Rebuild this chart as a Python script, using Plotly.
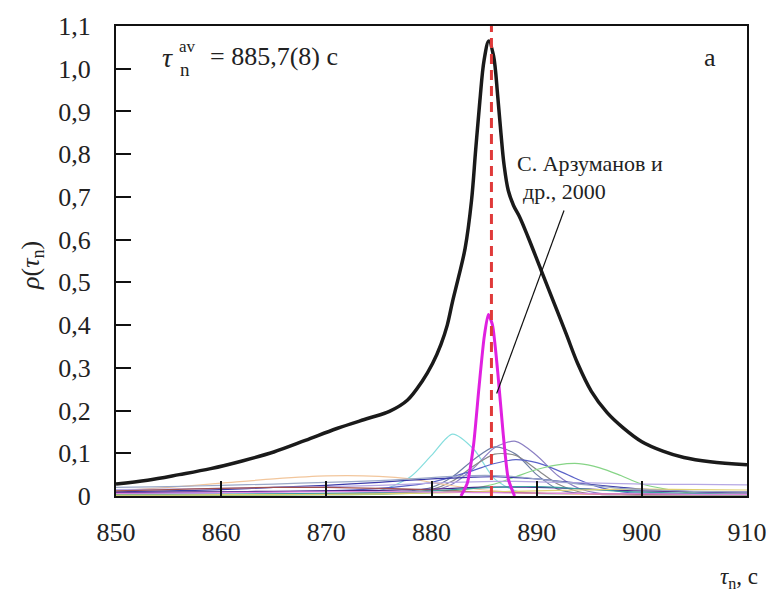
import plotly.graph_objects as go

# ---------------- data ----------------
TAU_AV = 885.7

# summed distribution (thick black)
black_x = [850, 853, 856, 859, 862, 865, 868, 871, 874, 876, 877.7, 879.1, 880.1, 880.9, 881.5,
           882.0, 882.6, 883.2, 883.8, 884.2, 884.6, 885.0, 885.45, 885.9, 886.3, 886.6, 886.9,
           887.3, 887.8, 888.4, 889.2, 890.4, 891.6, 892.8, 893.9, 895.2, 896.7, 898.2, 900.0,
           902.0, 904.0, 906.5, 910]
black_y = [0.028, 0.037, 0.050, 0.064, 0.082, 0.103, 0.130, 0.158, 0.182, 0.198, 0.224, 0.268,
           0.310, 0.355, 0.400, 0.455, 0.515, 0.580, 0.690, 0.810, 0.925, 1.020, 1.065, 1.030,
           0.935, 0.850, 0.775, 0.715, 0.680, 0.652, 0.605, 0.530, 0.455, 0.380, 0.310, 0.245,
           0.195, 0.160, 0.127, 0.105, 0.090, 0.080, 0.073]

# Arzumanov et al. 2000 (magenta)
mag_x = [882.8, 883.4, 884.0, 884.5, 885.0, 885.4, 885.8, 886.3, 886.8, 887.3, 887.9]
mag_y = [0.000, 0.030, 0.120, 0.250, 0.370, 0.425, 0.400, 0.290, 0.150, 0.040, 0.000]

# individual measurements (thin lines) on a common grid
thin_x = [850, 855, 860, 865, 870, 875, 878, 880, 882, 884, 886, 888, 890, 892, 894, 896, 898, 900, 905, 910]
thin_series = {
    "cyan":     [0.004, 0.004, 0.005, 0.005, 0.006, 0.012, 0.045, 0.095, 0.145, 0.110, 0.040, 0.012, 0.006, 0.005, 0.004, 0.004, 0.004, 0.004, 0.003, 0.003],
    "purple":   [0.002, 0.002, 0.003, 0.003, 0.004, 0.005, 0.008, 0.012, 0.028, 0.065, 0.113, 0.128, 0.095, 0.048, 0.018, 0.006, 0.004, 0.003, 0.003, 0.002],
    "grayblue": [0.003, 0.003, 0.003, 0.004, 0.005, 0.007, 0.012, 0.020, 0.045, 0.085, 0.115, 0.098, 0.050, 0.016, 0.006, 0.004, 0.003, 0.003, 0.003, 0.003],
    "gray":     [0.002, 0.002, 0.002, 0.003, 0.003, 0.005, 0.009, 0.015, 0.035, 0.070, 0.098, 0.095, 0.062, 0.028, 0.010, 0.004, 0.003, 0.002, 0.002, 0.002],
    "blue":     [0.006, 0.007, 0.008, 0.010, 0.012, 0.018, 0.025, 0.032, 0.045, 0.060, 0.076, 0.085, 0.078, 0.060, 0.038, 0.020, 0.010, 0.006, 0.004, 0.003],
    "green":    [0.002, 0.002, 0.002, 0.002, 0.003, 0.004, 0.006, 0.008, 0.012, 0.018, 0.028, 0.045, 0.062, 0.073, 0.076, 0.066, 0.048, 0.028, 0.006, 0.003],
    "orange":   [0.012, 0.020, 0.030, 0.040, 0.047, 0.046, 0.040, 0.032, 0.024, 0.017, 0.012, 0.008, 0.006, 0.005, 0.004, 0.004, 0.003, 0.003, 0.003, 0.003],
    "navy":     [0.010, 0.012, 0.015, 0.020, 0.025, 0.032, 0.037, 0.040, 0.042, 0.044, 0.045, 0.043, 0.040, 0.035, 0.030, 0.025, 0.020, 0.016, 0.010, 0.007],
    "lilac":    [0.015, 0.016, 0.018, 0.020, 0.022, 0.025, 0.028, 0.030, 0.032, 0.033, 0.034, 0.034, 0.033, 0.032, 0.031, 0.030, 0.029, 0.028, 0.027, 0.026],
    "violet":   [0.008, 0.009, 0.010, 0.011, 0.012, 0.013, 0.015, 0.016, 0.018, 0.020, 0.021, 0.021, 0.020, 0.019, 0.017, 0.015, 0.013, 0.012, 0.010, 0.009],
    "brown":    [0.012, 0.015, 0.018, 0.020, 0.020, 0.018, 0.016, 0.014, 0.012, 0.010, 0.009, 0.008, 0.007, 0.006, 0.006, 0.005, 0.005, 0.004, 0.004, 0.004],
    "teal":     [0.003, 0.003, 0.004, 0.005, 0.006, 0.008, 0.010, 0.012, 0.015, 0.018, 0.020, 0.022, 0.022, 0.020, 0.017, 0.014, 0.011, 0.009, 0.006, 0.004],
    "yellow":   [0.002, 0.002, 0.003, 0.003, 0.004, 0.005, 0.006, 0.007, 0.008, 0.009, 0.010, 0.011, 0.012, 0.013, 0.014, 0.015, 0.016, 0.016, 0.015, 0.014],
    "pink":     [0.006, 0.007, 0.008, 0.009, 0.010, 0.010, 0.010, 0.009, 0.009, 0.008, 0.008, 0.007, 0.007, 0.006, 0.006, 0.005, 0.005, 0.005, 0.004, 0.004],
    "slate":    [0.020, 0.022, 0.025, 0.028, 0.032, 0.036, 0.040, 0.043, 0.046, 0.048, 0.048, 0.045, 0.040, 0.034, 0.028, 0.023, 0.018, 0.015, 0.011, 0.009],
}
thin_colors = {
    "cyan": "#86dede", "purple": "#8c80c4", "grayblue": "#6f7fa6", "gray": "#8a8a8a",
    "blue": "#5a62c8", "green": "#86d486", "orange": "#f2c69c", "navy": "#3a3aa8",
    "lilac": "#b6a8e4", "violet": "#4a2088", "brown": "#a05050", "teal": "#3aa0a0",
    "yellow": "#e0d070", "pink": "#e088e0", "slate": "#9aa8c8",
}

x_ticks = [850, 860, 870, 880, 890, 900, 910]
y_ticks = [0, 0.1, 0.2, 0.3, 0.4, 0.5, 0.6, 0.7, 0.8, 0.9, 1.0, 1.1]
y_ticktext = ["0", "0,1", "0,2", "0,3", "0,4", "0,5", "0,6", "0,7", "0,8", "0,9", "1,0", "1,1"]

ANNOT_LINE = [(892.6, 0.668), (886.2, 0.24)]

# ---------------- figure ----------------
FONT = "Liberation Serif, Times New Roman, Times, DejaVu Serif, serif"
fig = go.Figure()

for name, vals in thin_series.items():
    fig.add_trace(go.Scatter(x=thin_x, y=vals, mode="lines",
                             line=dict(color=thin_colors[name], width=1.2, shape="spline", smoothing=0.8),
                             hoverinfo="skip", showlegend=False))

fig.add_trace(go.Scatter(x=mag_x, y=mag_y, mode="lines",
                         line=dict(color="#e020e0", width=3, shape="spline", smoothing=0.6),
                         showlegend=False))

fig.add_trace(go.Scatter(x=black_x, y=black_y, mode="lines",
                         line=dict(color="#1a1a1a", width=3.5, shape="spline", smoothing=1.0),
                         showlegend=False))

fig.add_trace(go.Scatter(x=[TAU_AV, TAU_AV], y=[0, 1.1], mode="lines",
                         line=dict(color="#e03a3a", width=3, dash="10px,6px"),
                         showlegend=False))

fig.add_shape(type="line", xref="x", yref="y",
              x0=ANNOT_LINE[0][0], y0=ANNOT_LINE[0][1], x1=ANNOT_LINE[1][0], y1=ANNOT_LINE[1][1],
              line=dict(color="#111", width=1.2))

axis_common = dict(showgrid=False, zeroline=False, showline=True, linecolor="#111", linewidth=2,
                   mirror=True, ticks="inside", ticklen=15, tickwidth=1.8, tickcolor="#111",
                   tickfont=dict(family=FONT, size=26, color="#222"))

fig.update_xaxes(range=[850, 910], tickvals=x_ticks, ticklabelstandoff=12, **axis_common)
fig.update_yaxes(range=[0, 1.1], tickvals=y_ticks, ticktext=y_ticktext, ticklabelstandoff=18, **axis_common)

W, H = 779, 594
L, R, T, B = 116, 28, 25, 98
PW, PH = W - L - R, H - T - B

def px(xp):
    return (xp - L) / PW

def py(yp):
    return (H - B - yp) / PH

ann = []
def add(text, x, y, size, xanchor="left", yanchor="middle", angle=0):
    ann.append(dict(text=text, x=px(x), y=py(y), xref="paper", yref="paper", showarrow=False,
                    xanchor=xanchor, yanchor=yanchor, textangle=angle,
                    font=dict(family=FONT, size=size, color="#222")))

# tau_n^av = 885,7(8) c
add("<i>τ</i>", 160, 57, 28)
add("av", 177, 46, 17)
add("n", 178, 69, 19)
add("= 885,7(8) с", 209, 56, 26)
add("а", 706, 57, 26)
add("С. Арзуманов и", 518, 163, 22)
add("др., 2000", 524, 191, 22)
# axis titles
add("<i>ρ</i>(<i>τ</i><sub>n</sub>)", 32, 265, 26, xanchor="center", angle=-90)
add("<i>τ</i><sub>n</sub>, с", 764, 578, 23, xanchor="right")

fig.update_layout(width=W, height=H, margin=dict(l=L, r=R, t=T, b=B),
                  font=dict(family=FONT),
                  paper_bgcolor="white", plot_bgcolor="white", annotations=ann,
                  showlegend=False)

fig.write_html("out.html")
